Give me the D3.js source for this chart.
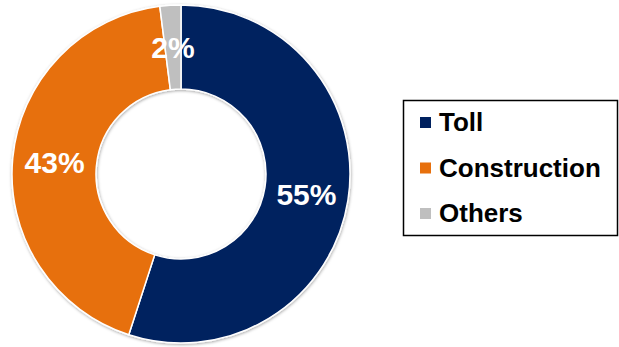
<!DOCTYPE html>
<html>
<head>
<meta charset="utf-8">
<script src="https://cdn.jsdelivr.net/npm/d3@7"></script>
<style>
  html, body { margin: 0; padding: 0; background: #fff; }
  svg { display: block; }
</style>
</head>
<body>
<svg id="chart" width="619" height="347"></svg>
<script>
// Revenue mix by segment
const categories = ["Toll", "Construction", "Others"];
const shares = [55, 43, 2];
const colors = ["#00215F", "#E7700D", "#BFBFBF"];

const svg = d3.select("#chart");
const cx = 181, cy = 174, outerR = 169, innerR = 85;

// soft shadow around the ring
const defs = svg.append("defs");
const f = defs.append("filter").attr("id", "ringShadow")
  .attr("x", "-10%").attr("y", "-10%").attr("width", "120%").attr("height", "120%");
f.append("feDropShadow").attr("dx", 0.5).attr("dy", 1).attr("stdDeviation", 1.6)
  .attr("flood-color", "#000").attr("flood-opacity", 0.35);

const pie = d3.pie().sort(null).value(d => d.v)
  .startAngle(0).endAngle(2 * Math.PI);
const data = pie(categories.map((c, i) => ({ c, v: shares[i], color: colors[i] })));

const arc = d3.arc().innerRadius(innerR).outerRadius(outerR);

const g = svg.append("g").attr("transform", `translate(${cx},${cy})`);

g.append("g").attr("filter", "url(#ringShadow)")
  .selectAll("path").data(data).join("path")
  .attr("d", arc)
  .attr("fill", d => d.data.color)
  .attr("stroke", "#fff")
  .attr("stroke-width", 1.5);

g.selectAll("text.pct").data(data).join("text")
  .attr("class", "pct")
  .attr("transform", d => { const [x, y] = arc.centroid(d); return `translate(${x},${y})`; })
  .attr("dy", "0.36em")
  .attr("text-anchor", "middle")
  .attr("fill", "#fff")
  .attr("font-family", "Liberation Sans, Arial, sans-serif")
  .attr("font-weight", "bold")
  .attr("font-size", 30)
  .text(d => d.data.v + "%");

// Legend
const lg = svg.append("g");
lg.append("rect")
  .attr("x", 403.5).attr("y", 100.5)
  .attr("width", 214).attr("height", 135)
  .attr("fill", "#fff").attr("stroke", "#000").attr("stroke-width", 1.5);

const rowY = d3.scalePoint().domain(categories).range([131, 222]);

const rows = lg.selectAll("g.row").data(categories).join("g")
  .attr("class", "row")
  .attr("transform", d => `translate(0,${rowY(d)})`);

rows.append("rect")
  .attr("x", 420).attr("y", -14)
  .attr("width", 11).attr("height", 11)
  .attr("fill", (d, i) => colors[i]);

rows.append("text")
  .attr("x", 439).attr("y", 0)
  .attr("font-family", "Liberation Sans, Arial, sans-serif")
  .attr("font-weight", "bold")
  .attr("font-size", 26)
  .attr("fill", "#000")
  .text(d => d);
</script>
</body>
</html>
